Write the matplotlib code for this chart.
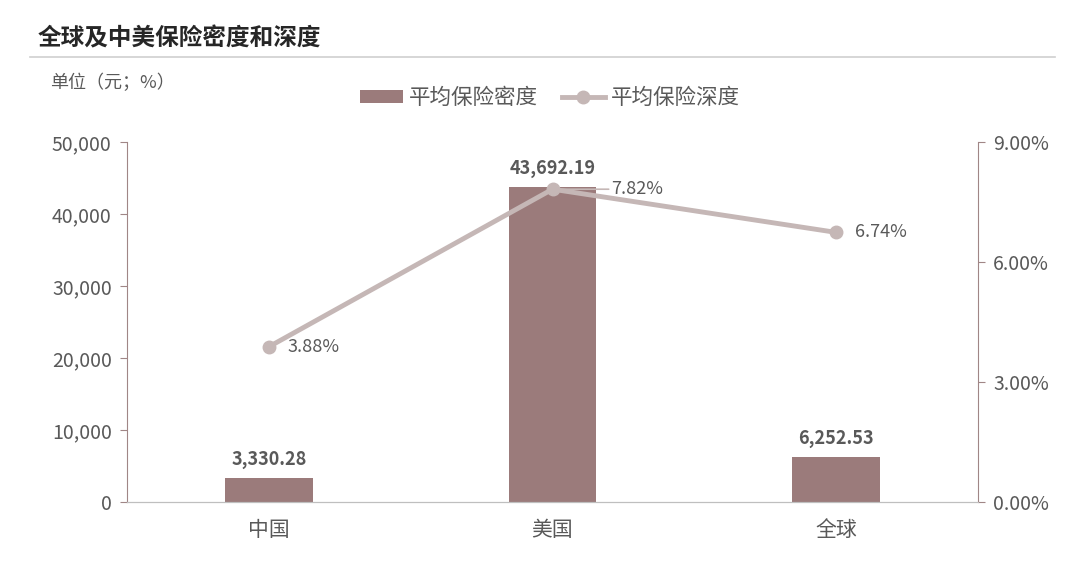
import numpy as np
import matplotlib
matplotlib.use('Agg')
import matplotlib.pyplot as plt

plt.rcParams['font.family'] = ['Noto Sans CJK SC', 'DejaVu Sans']

# data
categories = ['中国', '美国', '全球']
density = [3330.28, 43692.19, 6252.53]      # 平均保险密度 (元)
depth = [3.88, 7.82, 6.74]                  # 平均保险深度 (%)
left_ticks = [0, 10000, 20000, 30000, 40000, 50000]
right_ticks = [0, 3, 6, 9]

bar_color = '#9b7b7b'
line_color = '#c5b7b6'
spine_color = '#a08686'
text_color = '#595959'

fig = plt.figure(figsize=(10.8, 5.64), dpi=100)
ax = fig.add_axes([127 / 1080, 1 - 502 / 564, (978 - 127) / 1080, 360 / 564])
ax2 = ax.twinx()

x = np.arange(len(categories))
bars = ax.bar(x, density, width=0.31, color=bar_color, zorder=2, label='平均保险密度')
ax.set_xlim(-0.5, 2.5)
ax.set_ylim(0, 50000)
ax.set_yticks(left_ticks)
ax.set_yticklabels([f'{v:,}' for v in left_ticks])
ax.set_xticks(x)
ax.set_xticklabels(categories)

for xi, v in zip(x, density):
    ax.text(xi, v + 1300, f'{v:,.2f}', ha='center', va='bottom', fontsize=13,
            fontweight='bold', color=text_color)

line, = ax2.plot(x, depth, color=line_color, lw=3.5, marker='o', ms=9,
                 markerfacecolor=line_color, markeredgecolor=line_color,
                 zorder=3, label='平均保险深度')
ax2.set_ylim(0, 9)
ax2.set_yticks(right_ticks)
ax2.set_yticklabels([f'{v:.2f}%' for v in right_ticks])
# the US label sits further out, past a short leader
label_dx = [19, 59, 19]
for xi, v, dx in zip(x, depth, label_dx):
    props = None
    if dx > 30:
        props = dict(arrowstyle='-', color=line_color, lw=1.2, shrinkA=0, shrinkB=4)
    ax2.annotate(f'{v:.2f}%', (xi, v), xytext=(dx * 0.72, 0), textcoords='offset points',
                 ha='left', va='center', fontsize=13, color=text_color,
                 arrowprops=props)

for a in (ax, ax2):
    a.spines['top'].set_visible(False)
    a.spines['left'].set_color(spine_color)
    a.spines['right'].set_color(spine_color)
    a.spines['bottom'].set_color('#bfbfbf')
    a.tick_params(colors=text_color, labelsize=14)
ax.spines['right'].set_visible(False)
ax2.spines['left'].set_visible(False)
ax.tick_params(axis='y', length=5, color=spine_color, pad=6)
ax.tick_params(axis='x', length=0, pad=12, labelsize=15)
ax2.tick_params(axis='y', length=5, color=spine_color, pad=6)

# title and separator
fig.text(38 / 1080, 1 - 38 / 564, '全球及中美保险密度和深度', fontsize=17,
         fontweight='bold', color='#262626', va='center')
fig.add_artist(plt.Line2D([30 / 1080, 1055 / 1080], [1 - 57 / 564, 1 - 57 / 564],
                          color='#cfcfcf', lw=1.2))
fig.text(50 / 1080, 1 - 83 / 564, '单位（元；%）', fontsize=13, color=text_color,
         va='center')

fig.legend(handles=[bars, line], loc='center', bbox_to_anchor=(550 / 1080, 1 - 98 / 564),
           ncol=2, frameon=False, fontsize=15.5, labelcolor=text_color,
           handlelength=2.0, handleheight=0.6, columnspacing=1.1, handletextpad=0.3)

fig.savefig('out.png', dpi=100)
